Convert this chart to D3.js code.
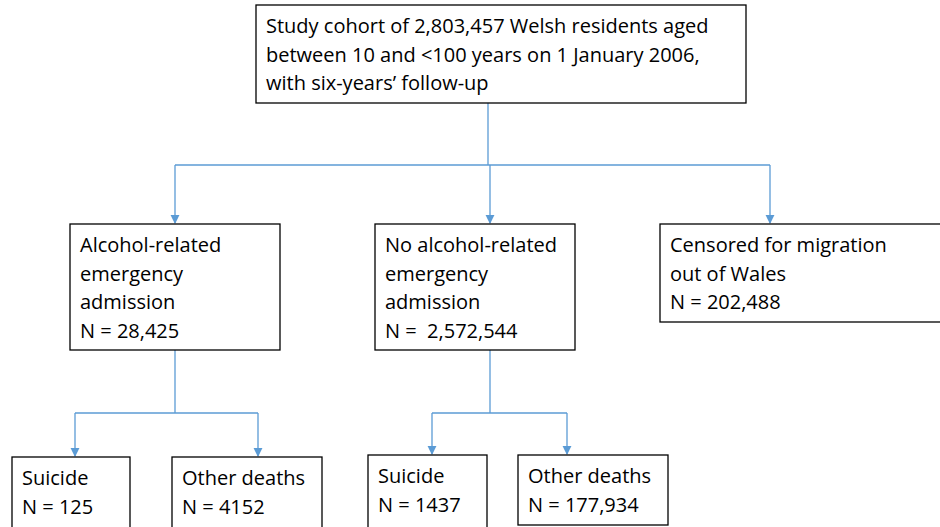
<!DOCTYPE html>
<html>
<head>
<meta charset="utf-8">
<script src="https://d3js.org/d3.v7.min.js"></script>
<style>
  body { margin: 0; background: #fff; }
  text { font-family: "Open Sans", sans-serif; font-size: 20px; fill: #000; white-space: pre; }
</style>
</head>
<body>
<svg id="chart" width="940" height="527"></svg>
<script>
// box labels (one entry per box, lines of text)
var boxIds = ['cohort', 'alc', 'noalc', 'cens', 'alcSui', 'alcOth', 'noSui', 'noOth'];
var boxLines = [
  ['Study cohort of 2,803,457 Welsh residents aged', 'between 10 and <100 years on 1 January 2006,', 'with six-years\u2019 follow-up'],
  ['Alcohol-related', 'emergency', 'admission', 'N = 28,425'],
  ['No alcohol-related', 'emergency', 'admission', 'N =  2,572,544'],
  ['Censored for migration', 'out of Wales', 'N = 202,488'],
  ['Suicide', 'N = 125'],
  ['Other deaths', 'N = 4152'],
  ['Suicide', 'N = 1437'],
  ['Other deaths', 'N = 177,934']
];
// box geometry [x, y, w, h]
var boxRect = [
  [256, 5, 490, 98],
  [70, 224, 210, 126],
  [375, 224, 200, 126],
  [660, 224, 285, 98],
  [12, 457, 118, 80],
  [172, 457, 150, 80],
  [368, 455, 119, 80],
  [518, 455, 150, 70]
];
// connectors: parent, children, y of the horizontal bar
var links = [
  { from: 0, to: [1, 2, 3], bar: 165, xs: [175, 490, 770] },
  { from: 1, to: [4, 5], bar: 413, xs: [75, 258] },
  { from: 2, to: [6, 7], bar: 413, xs: [432, 567] }
];

var svg = d3.select('#chart');
svg.append('defs').append('marker')
  .attr('id', 'arr').attr('viewBox', '0 0 10 10').attr('refX', 9).attr('refY', 5)
  .attr('markerWidth', 7).attr('markerHeight', 7).attr('orient', 'auto')
  .append('path').attr('d', 'M0,0L10,5L0,10z').attr('fill', '#5b9bd5');

var blue = '#5b9bd5';
var lines = svg.append('g');
links.forEach(function (l) {
  var p = boxRect[l.from];
  var px = l.from === 0 ? 488 : (l.from === 1 ? 175 : 490);
  lines.append('line').attr('x1', px).attr('y1', p[1] + p[3]).attr('x2', px).attr('y2', l.bar)
    .attr('stroke', blue).attr('stroke-width', 1.3);
  lines.append('line').attr('x1', d3.min(l.xs)).attr('y1', l.bar).attr('x2', d3.max(l.xs)).attr('y2', l.bar)
    .attr('stroke', blue).attr('stroke-width', 1.3);
  l.to.forEach(function (c, i) {
    lines.append('line').attr('x1', l.xs[i]).attr('y1', l.bar).attr('x2', l.xs[i]).attr('y2', boxRect[c][1] - 1)
      .attr('stroke', blue).attr('stroke-width', 1.3).attr('marker-end', 'url(#arr)');
  });
});

var boxes = svg.selectAll('g.box')
  .data(boxIds)
  .enter()
  .append('g').attr('class', 'box');

boxes.append('rect')
  .attr('x', function (d, i) { return boxRect[i][0]; })
  .attr('y', function (d, i) { return boxRect[i][1]; })
  .attr('width', function (d, i) { return boxRect[i][2]; })
  .attr('height', function (d, i) { return boxRect[i][3]; })
  .attr('fill', '#fff').attr('stroke', '#000').attr('stroke-width', 1.3);

boxes.each(function (d, i) {
  var r = boxRect[i];
  d3.select(this).selectAll('text')
    .data(boxLines[i])
    .enter()
    .append('text')
    .attr('x', r[0] + 10)
    .attr('y', function (t, j) { return r[1] + 28 + j * 28.5; })
    .text(function (t) { return t; });
});
</script>
</body>
</html>
